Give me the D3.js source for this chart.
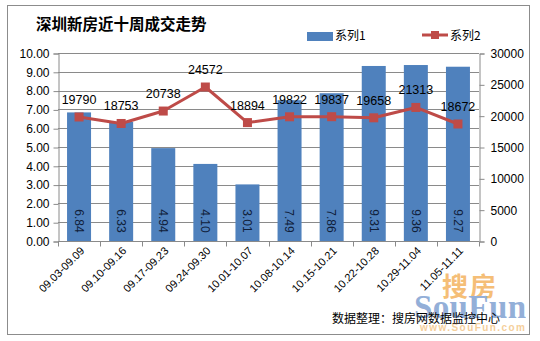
<!DOCTYPE html>
<html><head><meta charset="utf-8">
<script src="https://cdn.jsdelivr.net/npm/d3@7"></script>
<style>
body{margin:0;background:#fff;}
svg{display:block;font-family:"Liberation Sans","Noto Sans CJK SC",sans-serif;}
</style></head>
<body><svg id="c" width="540" height="341"></svg>
<script>
const categories = ["09.03-09.09","09.10-09.16","09.17-09.23","09.24-09.30","10.01-10.07","10.08-10.14","10.15-10.21","10.22-10.28","10.29-11.04","11.05-11.11"];
const series1 = [6.84,6.33,4.94,4.10,3.01,7.49,7.86,9.31,9.36,9.27];
const series2 = [19790,18753,20738,24572,18894,19822,19837,19658,21313,18672];
const leftTicks = [0,1,2,3,4,5,6,7,8,9,10];
const rightTicks = [0,5000,10000,15000,20000,25000,30000];
const seriesNames = ["系列1","系列2"];
const title = "深圳新房近十周成交走势";
const source = "数据整理：搜房网数据监控中心";

const svg = d3.select("#c");
const L=58,R=479,T=53,B=241;
const barColor="#4F81BD", lineColor="#BE4B48", gridColor="#8a8a8a";
const cjk='"Noto Sans CJK SC",sans-serif';

svg.append("rect").attr("x",7.5).attr("y",5.5).attr("width",522).attr("height",329)
  .attr("fill","#fff").attr("stroke","#8c8c8c");

const x = d3.scaleBand().domain(categories).range([L,R]).paddingInner(0.43).paddingOuter(0.215);
const y1 = d3.scaleLinear().domain([0,10]).range([B,T]);
const y2 = d3.scaleLinear().domain([0,30000]).range([B,T]);

// gridlines
svg.append("g").selectAll("line").data(leftTicks.slice(1)).join("line")
  .attr("x1",L).attr("x2",R).attr("y1",d=>Math.round(y1(d))+0.5).attr("y2",d=>Math.round(y1(d))+0.5)
  .attr("stroke",gridColor).attr("stroke-width",1);

// left axis
const gl = svg.append("g").attr("transform",`translate(${L+0.5},0.5)`)
  .call(d3.axisLeft(y1).tickValues(leftTicks).tickFormat(d3.format(".2f")).tickSize(5).tickPadding(4));
const gr = svg.append("g").attr("transform",`translate(${R+0.5},0.5)`)
  .call(d3.axisRight(y2).tickValues(rightTicks).tickFormat(d3.format("d")).tickSize(5).tickPadding(6));
[gl,gr].forEach(g=>{
  g.select(".domain").attr("stroke",gridColor);
  g.selectAll(".tick line").attr("stroke",gridColor);
  g.selectAll("text").attr("font-size",12).attr("fill","#000").attr("font-family","Liberation Sans");
});

// bars
svg.append("g").selectAll("rect").data(series1).join("rect")
  .attr("x",(d,i)=>x(categories[i])).attr("width",x.bandwidth())
  .attr("y",d=>y1(d)).attr("height",d=>B-y1(d)).attr("fill",barColor);

// bottom axis
const step = x.step();
const gb = svg.append("g").attr("transform",`translate(0,${B+0.5})`);
gb.append("line").attr("x1",L).attr("x2",R).attr("stroke",gridColor);
gb.selectAll("line.t").data(d3.range(categories.length+1)).join("line").attr("class","t")
  .attr("x1",i=>Math.round(L+i*step)+0.5).attr("x2",i=>Math.round(L+i*step)+0.5).attr("y1",0).attr("y2",5)
  .attr("stroke",gridColor);
gb.selectAll("text").data(categories).join("text")
  .attr("transform",d=>`translate(${x(d)+x.bandwidth()/2+6},10) rotate(-45)`)
  .attr("text-anchor","end").attr("font-size",11).attr("fill","#000").text(d=>d);

// bar labels rotated
svg.append("g").selectAll("text").data(series1).join("text")
  .attr("transform",(d,i)=>`translate(${x(categories[i])+x.bandwidth()/2},221) rotate(90)`)
  .attr("text-anchor","middle").attr("dy","0.35em").attr("font-size",12).attr("fill","#10203a")
  .text(d=>d3.format(".2f")(d));

// line
const cx = i=>x(categories[i])+x.bandwidth()/2;
svg.append("path").datum(series2)
  .attr("d",d3.line().x((d,i)=>cx(i)).y(d=>y2(d)))
  .attr("fill","none").attr("stroke",lineColor).attr("stroke-width",3).attr("stroke-linejoin","round");
svg.append("g").selectAll("rect").data(series2).join("rect")
  .attr("x",(d,i)=>cx(i)-4.5).attr("y",d=>y2(d)-4.5).attr("width",9).attr("height",9).attr("fill",lineColor);
svg.append("g").selectAll("text").data(series2).join("text")
  .attr("x",(d,i)=>cx(i)).attr("y",d=>y2(d)-13).attr("text-anchor","middle")
  .attr("font-size",12.5).attr("fill","#000").text(d=>d);

// title
svg.append("text").attr("x",36).attr("y",30).attr("font-family",cjk).attr("font-weight","bold")
  .attr("font-size",15.5).attr("fill","#000").text(title);

// legend
svg.append("rect").attr("x",307).attr("y",32).attr("width",26).attr("height",9).attr("fill",barColor);
svg.append("text").attr("x",335).attr("y",40).attr("font-family",cjk).attr("font-size",12).text(seriesNames[0]);
svg.append("line").attr("x1",422).attr("x2",448).attr("y1",35).attr("y2",35).attr("stroke",lineColor).attr("stroke-width",3);
svg.append("rect").attr("x",431).attr("y",31).attr("width",8).attr("height",8).attr("fill",lineColor);
svg.append("text").attr("x",450).attr("y",40).attr("font-family",cjk).attr("font-size",12).text(seriesNames[1]);

// watermark
const wm = svg.append("g").attr("opacity",0.75);
wm.append("text").attr("x",442).attr("y",296).attr("font-family",cjk).attr("font-weight","bold")
  .attr("font-size",26).attr("fill","#F2A94A").attr("letter-spacing",2).text("搜房");
wm.append("text").attr("x",414).attr("y",318).attr("font-family","Liberation Serif").attr("font-weight","bold")
  .attr("font-size",33).attr("fill","#6F95CC").attr("textLength",112).text("SouFun");
wm.append("text").attr("x",420).attr("y",331).attr("font-family","Liberation Sans").attr("font-weight","bold")
  .attr("font-size",10).attr("fill","#F2C07A").attr("textLength",105).text("www.SouFun.com");

// source
svg.append("text").attr("x",332).attr("y",323).attr("font-family",cjk).attr("font-size",12)
  .attr("fill","#000").text(source);
</script></body></html>
